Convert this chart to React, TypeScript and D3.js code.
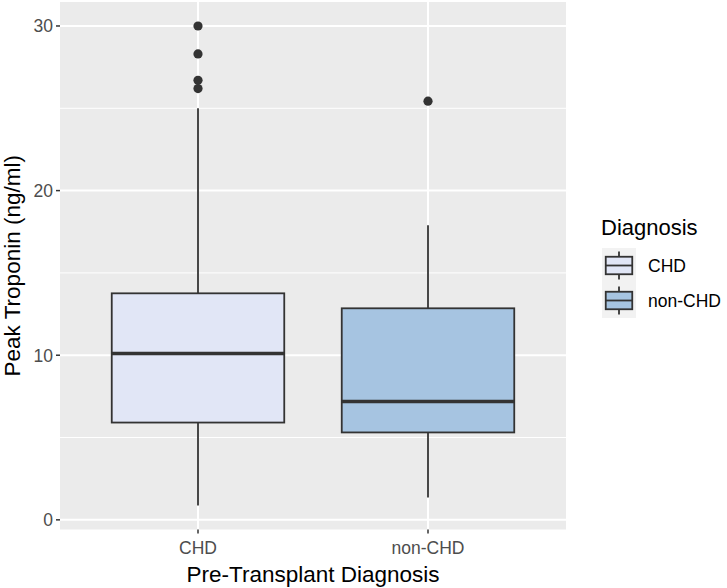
import React from "react";
import * as d3 from "d3";

const categories = ["CHD", "non-CHD"];
const lowerWhisker = [0.87, 1.36];
const q1 = [5.91, 5.31];
const median = [10.11, 7.19];
const q3 = [13.76, 12.85];
const upperWhisker = [25.0, 17.89];
const outliersCHD = [30.0, 28.3, 26.7, 26.2];
const outliersNonCHD = [25.43];
const outliers = [outliersCHD, outliersNonCHD];
const fills = ["#e1e6f6", "#a6c4e1"];
const yTicks = [0, 10, 20, 30];
const yMinor = [5, 15, 25];

const W = 727;
const H = 588;
const panel = { left: 60, right: 566, top: 2, bottom: 529.5 };
const font = "'Liberation Sans', Arial, Helvetica, sans-serif";
const dark = "#333333";
const lw = 1.8;

export default function App() {
  const allVals = [...lowerWhisker, ...upperWhisker, ...outliersCHD, ...outliersNonCHD];
  const lo = d3.min(allVals) as number;
  const hi = d3.max(allVals) as number;
  const pad = (hi - lo) * 0.05;
  const y = d3.scaleLinear().domain([lo - pad, hi + pad]).range([panel.bottom, panel.top]);
  const x = d3.scalePoint<string>().domain(categories).range([panel.left, panel.right]).padding(0.6);
  const boxW = x.step() * 0.75;

  const keyX = 602;
  const keyW = 34;
  const keyH = 35;
  const keyY0 = 248;

  return (
    <svg width={W} height={H} style={{ position: "absolute", left: 0, top: 0, display: "block" }}>
      <rect x={0} y={0} width={W} height={H} fill="#ffffff" />
      <rect x={panel.left} y={panel.top} width={panel.right - panel.left} height={panel.bottom - panel.top} fill="#ebebeb" />
      {yMinor.map((t) => (
        <line key={"mi" + t} x1={panel.left} x2={panel.right} y1={y(t)} y2={y(t)} stroke="#ffffff" strokeWidth={1} />
      ))}
      {yTicks.map((t) => (
        <line key={"ma" + t} x1={panel.left} x2={panel.right} y1={y(t)} y2={y(t)} stroke="#ffffff" strokeWidth={2} />
      ))}
      {categories.map((c) => (
        <line key={"vx" + c} x1={x(c)} x2={x(c)} y1={panel.top} y2={panel.bottom} stroke="#ffffff" strokeWidth={2} />
      ))}

      {categories.map((c, i) => {
        const cx = x(c) as number;
        return (
          <g key={"box" + c}>
            <line x1={cx} x2={cx} y1={y(upperWhisker[i])} y2={y(q3[i])} stroke={dark} strokeWidth={lw} />
            <line x1={cx} x2={cx} y1={y(q1[i])} y2={y(lowerWhisker[i])} stroke={dark} strokeWidth={lw} />
            <rect
              x={cx - boxW / 2}
              y={y(q3[i])}
              width={boxW}
              height={y(q1[i]) - y(q3[i])}
              fill={fills[i]}
              stroke={dark}
              strokeWidth={lw}
            />
            <line x1={cx - boxW / 2} x2={cx + boxW / 2} y1={y(median[i])} y2={y(median[i])} stroke={dark} strokeWidth={3.5} />
            {outliers[i].map((v, j) => (
              <circle key={j} cx={cx} cy={y(v)} r={4.6} fill={dark} />
            ))}
          </g>
        );
      })}

      {yTicks.map((t) => (
        <g key={"yt" + t}>
          <line x1={panel.left - 4} x2={panel.left} y1={y(t)} y2={y(t)} stroke={dark} strokeWidth={1.5} />
          <text x={panel.left - 7} y={y(t)} dy="0.36em" textAnchor="end" fontFamily={font} fontSize={17.5} fill="#4d4d4d">
            {t}
          </text>
        </g>
      ))}
      {categories.map((c) => (
        <g key={"xt" + c}>
          <line x1={x(c)} x2={x(c)} y1={panel.bottom} y2={panel.bottom + 4} stroke={dark} strokeWidth={1.5} />
          <text x={x(c)} y={554} textAnchor="middle" fontFamily={font} fontSize={17.5} fill="#4d4d4d">
            {c}
          </text>
        </g>
      ))}

      <text x={(panel.left + panel.right) / 2} y={582} textAnchor="middle" fontFamily={font} fontSize={22.5} fill="#000000">
        Pre-Transplant Diagnosis
      </text>
      <text
        transform={`translate(20,${(panel.top + panel.bottom) / 2}) rotate(-90)`}
        textAnchor="middle"
        fontFamily={font}
        fontSize={22.5}
        fill="#000000"
      >
        Peak Troponin (ng/ml)
      </text>

      <text x={601} y={235} fontFamily={font} fontSize={22} fill="#000000">
        Diagnosis
      </text>
      {categories.map((c, i) => {
        const ky = keyY0 + i * keyH;
        const kx = keyX;
        const cx = kx + keyW / 2;
        return (
          <g key={"leg" + c}>
            <rect x={kx} y={ky} width={keyW} height={keyH} fill="#f2f2f2" />
            <line x1={cx} x2={cx} y1={ky + keyH * 0.1} y2={ky + keyH * 0.25} stroke={dark} strokeWidth={lw} />
            <line x1={cx} x2={cx} y1={ky + keyH * 0.75} y2={ky + keyH * 0.9} stroke={dark} strokeWidth={lw} />
            <rect
              x={kx + keyW * 0.11}
              y={ky + keyH * 0.25}
              width={keyW * 0.78}
              height={keyH * 0.5}
              fill={fills[i]}
              stroke={dark}
              strokeWidth={lw}
            />
            <line x1={kx + keyW * 0.11} x2={kx + keyW * 0.89} y1={ky + keyH / 2} y2={ky + keyH / 2} stroke={dark} strokeWidth={lw} />
            <text x={648} y={ky + keyH / 2} dy="0.36em" fontFamily={font} fontSize={17.5} fill="#000000">
              {c}
            </text>
          </g>
        );
      })}
    </svg>
  );
}
